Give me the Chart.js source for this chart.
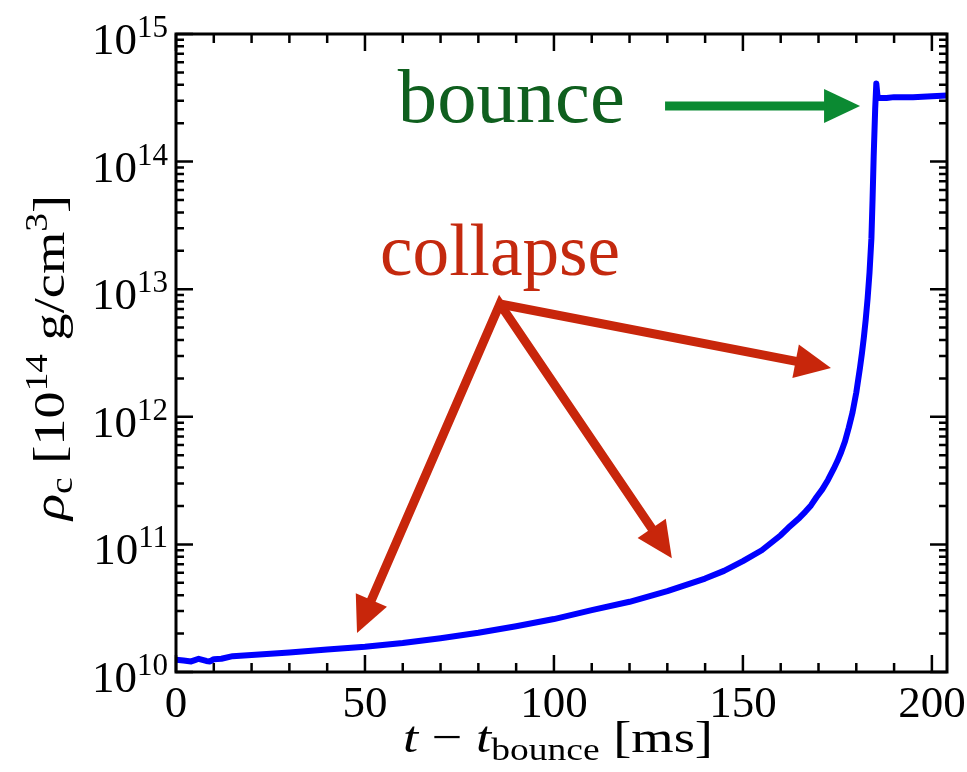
<!DOCTYPE html>
<html>
<head>
<meta charset="utf-8">
<script src="https://cdn.jsdelivr.net/npm/chart.js@4.4.1/dist/chart.umd.min.js"></script>
<style>
  body { margin: 0; background: #fff; }
</style>
</head>
<body>
<canvas id="rhoChart" width="967" height="772"></canvas>
<script>
// central density vs time
const timeMs = [0, 2, 4, 5, 6, 8, 9, 10, 12, 15, 20, 25, 30, 40, 50, 60, 70, 80, 90, 100,
    110, 120, 130, 140, 145, 150, 155, 160, 162, 165, 166.5, 168, 169.5, 171, 172.5, 174, 175,
    176, 177, 178, 179, 180, 180.5, 181, 181.5, 182, 182.5, 183, 183.5, 184, 184.3, 184.6,
    185, 185.3, 185.6, 186, 188, 190, 195, 200, 204];
const rhoC = [1.25e10, 1.23e10, 1.21e10, 1.24e10, 1.27e10, 1.22e10, 1.21e10, 1.26e10, 1.27e10,
    1.33e10, 1.36e10, 1.39e10, 1.42e10, 1.50e10, 1.58e10, 1.69e10, 1.84e10, 2.03e10, 2.28e10,
    2.6e10, 3.05e10, 3.55e10, 4.3e10, 5.4e10, 6.2e10, 7.4e10, 9.0e10, 1.18e11, 1.35e11, 1.62e11,
    1.8e11, 2.02e11, 2.35e11, 2.7e11, 3.2e11, 3.9e11, 4.5e11, 5.3e11, 6.4e11, 8.2e11, 1.08e12,
    1.55e12, 1.95e12, 2.45e12, 3.15e12, 4.2e12, 5.8e12, 8.5e12, 1.35e13, 2.5e13, 5.0e13, 1.1e14,
    2.6e14, 4.1e14, 3.3e14, 3.15e14, 3.15e14, 3.2e14, 3.2e14, 3.25e14, 3.3e14];

const xTicks = [0, 50, 100, 150, 200];
const yExponents = [10, 11, 12, 13, 14, 15];

// annotations, in data units
const bounceText = [58.7, 2.04e14];
const collapseText = [54, 1.29e13];
const bounceArrow = [[129.4, 2.73e14], [181.0, 2.73e14]];
const collapseFrom = [85.7, 7.66e12];
const collapseTips = [[173.3, 2.41e12], [131.2, 7.8e10], [47.9, 2.02e10]];

const SERIF = '"Liberation Serif", "DejaVu Serif", serif';

function font(r) {
    return (r.it ? 'italic ' : '') + r.s + 'px ' + SERIF;
}

// draw a list of text runs on one baseline, optionally squeezed/stretched to a width
function drawRuns(ctx, runs, x, y, width, align) {
    let total = 0;
    runs.forEach(r => { ctx.font = font(r); r.w = ctx.measureText(r.t).width; total += r.w; });
    const sx = width ? width / total : 1;
    ctx.save();
    ctx.translate(align === 'right' ? x - total * sx : align === 'center' ? x - total * sx / 2 : x, y);
    ctx.scale(sx, 1);
    ctx.textAlign = 'left';
    ctx.textBaseline = 'alphabetic';
    let cx = 0;
    runs.forEach(r => {
        ctx.font = font(r);
        ctx.fillText(r.t, cx, r.dy || 0);
        cx += r.w;
    });
    ctx.restore();
}

function arrowHead(ctx, from, tip, len, half) {
    const dx = tip[0] - from[0], dy = tip[1] - from[1];
    const d = Math.hypot(dx, dy);
    const ux = dx / d, uy = dy / d;
    const bx = tip[0] - ux * len, by = tip[1] - uy * len;
    ctx.beginPath();
    ctx.moveTo(tip[0], tip[1]);
    ctx.lineTo(bx - uy * half, by + ux * half);
    ctx.lineTo(bx + uy * half, by - ux * half);
    ctx.closePath();
    ctx.fill();
    return [bx + ux * 2, by + uy * 2];
}

const framePlugin = {
    id: 'frame',
    afterDatasetsDraw(chart) {
        const { ctx, chartArea: a, scales: { x, y } } = chart;
        ctx.save();
        ctx.strokeStyle = '#000';
        ctx.lineWidth = 2.5;
        ctx.beginPath();
        // x ticks every 10 ms, long ones on the labelled values
        for (let v = 0; v <= x.max; v += 10) {
            const px = x.getPixelForValue(v);
            const len = v % 50 === 0 ? 17 : 9;
            ctx.moveTo(px, a.bottom); ctx.lineTo(px, a.bottom - len);
            ctx.moveTo(px, a.top); ctx.lineTo(px, a.top + len);
        }
        // log ticks
        yExponents.forEach(e => {
            for (let k = 1; k < 10; k++) {
                const v = k * Math.pow(10, e);
                if (v > y.max) break;
                const py = y.getPixelForValue(v);
                const len = k === 1 ? 17 : 8;
                ctx.moveTo(a.left, py); ctx.lineTo(a.left + len, py);
                ctx.moveTo(a.right, py); ctx.lineTo(a.right - len, py);
            }
        });
        ctx.stroke();
        ctx.lineWidth = 3;
        ctx.strokeRect(a.left, a.top, a.right - a.left, a.bottom - a.top);

        // tick labels
        ctx.fillStyle = '#000';
        xTicks.forEach(v => {
            drawRuns(ctx, [{ t: String(v), s: 45 }], x.getPixelForValue(v), a.bottom + 45, 0, 'center');
        });
        yExponents.forEach(e => {
            const py = y.getPixelForValue(Math.pow(10, e));
            drawRuns(ctx, [{ t: '10', s: 45 }, { t: String(e), s: 31, dy: -17 }], 168, py + 20, 0, 'right');
        });

        // axis titles
        drawRuns(ctx, [
            { t: 't', s: 45, it: true },
            { t: ' \u2212 ', s: 45 },
            { t: 't', s: 45, it: true },
            { t: 'bounce', s: 31, dy: 8 },
            { t: ' [ms]', s: 45 }
        ], 403, 752, 310);
        ctx.save();
        ctx.translate(64, 520);
        ctx.rotate(-Math.PI / 2);
        drawRuns(ctx, [
            { t: '\u03c1', s: 45, it: true },
            { t: 'c', s: 31, dy: 8 },
            { t: ' [10', s: 45 },
            { t: '14', s: 31, dy: -17 },
            { t: ' g/cm', s: 45 },
            { t: '3', s: 31, dy: -17 },
            { t: ']', s: 45 }
        ], 0, 0, 325);
        ctx.restore();

        // annotations
        const P = p => [x.getPixelForValue(p[0]), y.getPixelForValue(p[1])];
        ctx.fillStyle = '#0f5f1e';
        const bt = P(bounceText);
        drawRuns(ctx, [{ t: 'bounce', s: 76 }], bt[0], bt[1], 227);
        ctx.fillStyle = '#c4290e';
        const ct = P(collapseText);
        drawRuns(ctx, [{ t: 'collapse', s: 74 }], ct[0], ct[1], 240);

        // green arrow
        ctx.fillStyle = '#0b8a32';
        ctx.strokeStyle = '#0b8a32';
        ctx.lineWidth = 9;
        ctx.lineCap = 'butt';
        const g0 = P(bounceArrow[0]), g1 = P(bounceArrow[1]);
        const gb = arrowHead(ctx, g0, g1, 36, 17);
        ctx.beginPath(); ctx.moveTo(g0[0], g0[1]); ctx.lineTo(gb[0], gb[1]); ctx.stroke();

        // red arrows
        ctx.fillStyle = '#c8260b';
        ctx.strokeStyle = '#c8260b';
        ctx.lineJoin = 'miter';
        const o = P(collapseFrom);
        const bases = collapseTips.map(t => arrowHead(ctx, o, P(t), 36, 17));
        ctx.beginPath();
        ctx.moveTo(bases[2][0], bases[2][1]);
        ctx.lineTo(o[0], o[1]);
        ctx.lineTo(bases[1][0], bases[1][1]);
        ctx.stroke();
        ctx.beginPath();
        ctx.moveTo(o[0], o[1]);
        ctx.lineTo(bases[0][0], bases[0][1]);
        ctx.stroke();
        ctx.restore();
    }
};

new Chart(document.getElementById('rhoChart'), {
    type: 'scatter',
    data: {
        datasets: [{
            data: timeMs.map((t, i) => ({ x: t, y: rhoC[i] })),
            showLine: true,
            borderColor: '#0000ff',
            borderWidth: 6,
            borderJoinStyle: 'round',
            pointRadius: 0,
            tension: 0
        }]
    },
    options: {
        responsive: false,
        animation: false,
        devicePixelRatio: 1,
        layout: { padding: { left: 176, top: 34, right: 20, bottom: 100 } },
        plugins: { legend: { display: false }, tooltip: { enabled: false } },
        scales: {
            x: { type: 'linear', min: 0, max: 204, display: false },
            y: { type: 'logarithmic', min: 1e10, max: 1e15, display: false }
        }
    },
    plugins: [framePlugin]
});
</script>
</body>
</html>
